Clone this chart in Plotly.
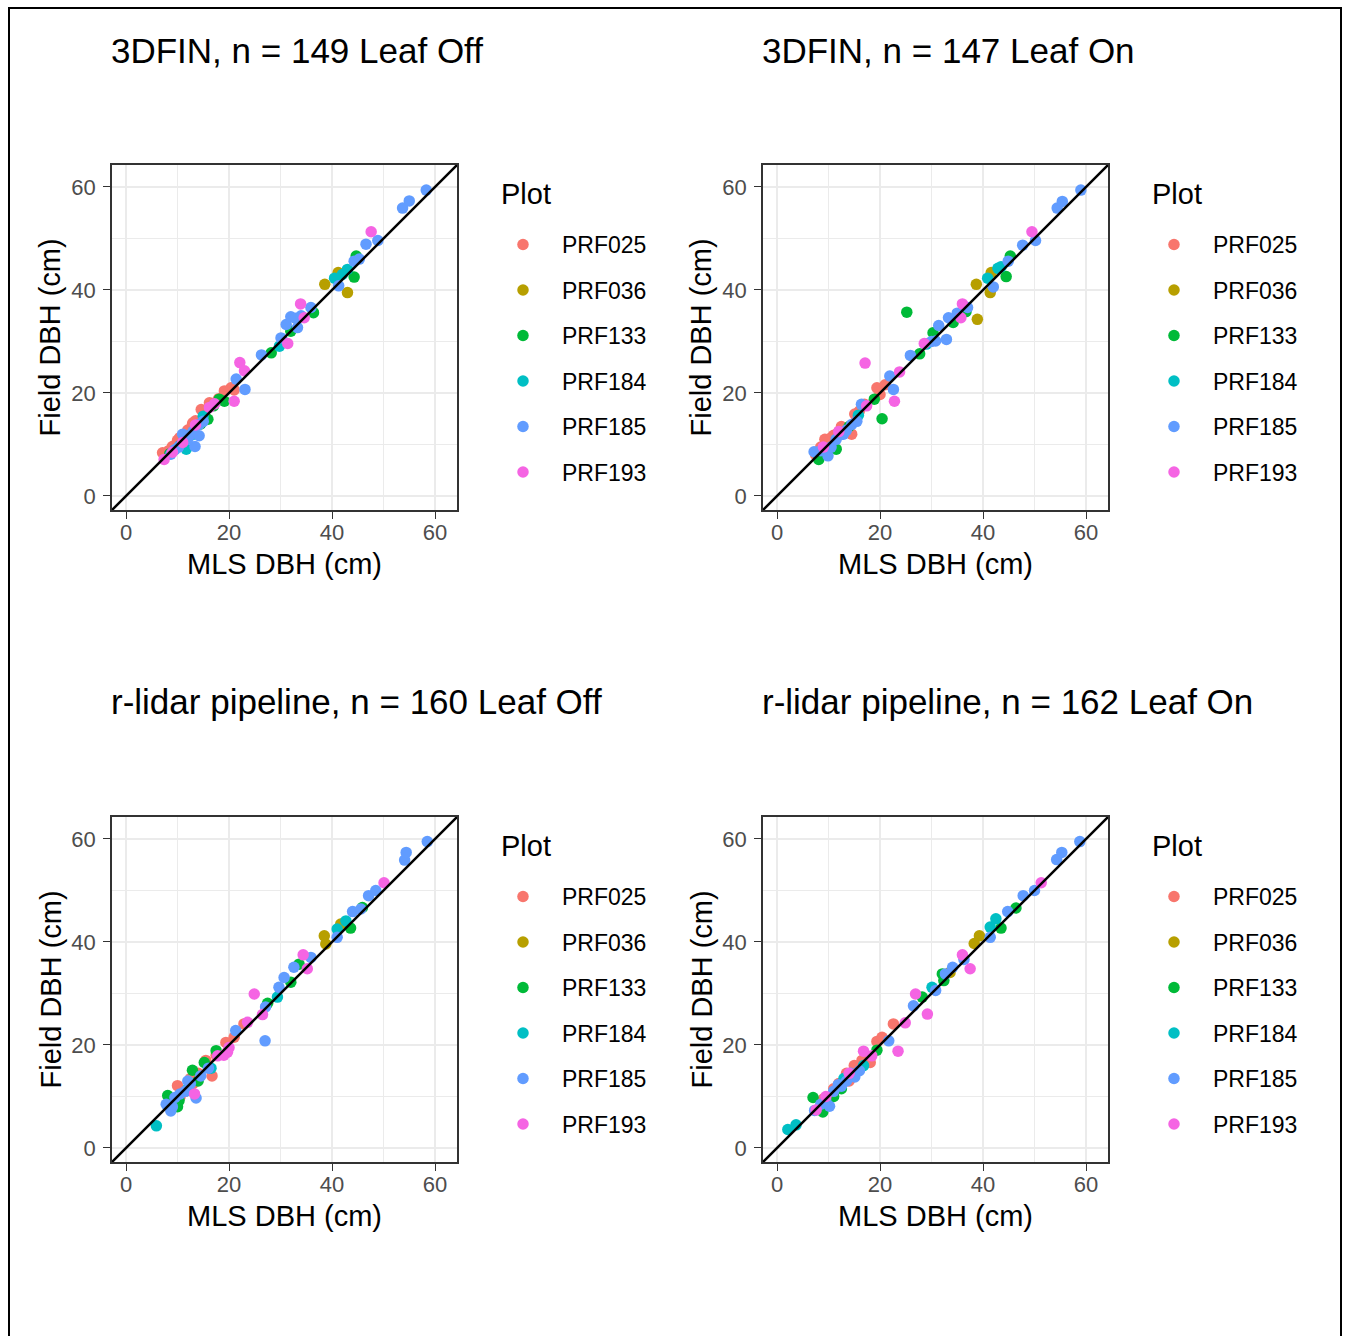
import plotly.graph_objects as go

# ---------------- data ----------------
PLOTS = ["PRF025", "PRF036", "PRF133", "PRF184", "PRF185", "PRF193"]
COLORS = ["#F8766D", "#B79F00", "#00BA38", "#00BFC4", "#619CFF", "#F564E3"]
TITLES = ["3DFIN, n = 149 Leaf Off", "3DFIN, n = 147 Leaf On",
          "r-lidar pipeline, n = 160 Leaf Off", "r-lidar pipeline, n = 162 Leaf On"]
TICKS = [0, 20, 40, 60]
MINOR_TICKS = [10, 30, 50]

# Panel 1: 3DFIN Leaf Off
p1_025_mls = [7.1, 8.3, 9.0, 10.4, 11.2, 12.0, 12.9, 13.5, 14.6, 15.2, 16.2, 17.0, 18.0, 19.1, 20.4, 21.0, 10.0, 13.0]
p1_025_fld = [8.4, 8.8, 9.6, 11.3, 11.9, 12.8, 13.9, 14.6, 16.8, 16.4, 18.1, 18.0, 18.9, 20.4, 21.0, 20.6, 10.8, 14.2]
p1_036_mls = [38.6, 41.2, 43.0]
p1_036_fld = [41.1, 43.4, 39.5]
p1_133_mls = [8.5, 12.5, 14.5, 15.9, 18.1, 19.1, 28.2, 32.0, 36.4, 44.7, 44.3, 11.0, 17.0]
p1_133_fld = [8.2, 11.8, 14.0, 14.9, 18.8, 18.4, 27.8, 32.0, 35.6, 46.6, 42.5, 10.3, 17.5]
p1_184_mls = [11.7, 10.5, 13.0, 15.0, 29.8, 30.5, 40.5, 43.0, 42.0]
p1_184_fld = [9.1, 9.8, 12.0, 15.5, 29.1, 30.0, 42.3, 44.0, 43.0]
p1_185_mls = [8.7, 9.5, 10.2, 11.0, 12.3, 13.4, 14.2, 14.2, 13.0, 12.0, 15.0, 21.4, 23.1, 26.3, 30.1, 31.1,
              32.0, 33.3, 35.9, 33.0, 41.3, 44.3, 45.3, 46.6, 48.9, 53.7, 55.0, 58.3, 34.0]
p1_185_fld = [8.1, 9.0, 9.5, 12.0, 11.7, 9.6, 13.9, 11.7, 12.5, 11.0, 14.5, 22.7, 20.7, 27.4, 30.7, 33.3,
              34.8, 32.7, 36.6, 34.5, 40.8, 45.6, 46.0, 48.9, 49.6, 55.9, 57.3, 59.4, 35.0]
p1_193_mls = [7.4, 11.0, 16.2, 17.2, 21.0, 22.1, 23.0, 31.4, 33.9, 34.6, 47.6, 9.0, 13.5]
p1_193_fld = [7.1, 10.4, 17.2, 17.9, 18.4, 25.9, 24.3, 29.6, 37.3, 34.6, 51.3, 8.5, 13.8]

# Panel 2: 3DFIN Leaf On
p2_025_mls = [7.5, 8.5, 9.3, 10.0, 11.0, 12.0, 13.0, 14.5, 15.1, 16.0, 17.0, 19.4, 20.0, 21.0, 10.5, 12.5]
p2_025_fld = [8.0, 9.5, 11.0, 10.5, 11.8, 12.5, 12.8, 12.0, 15.9, 16.5, 17.8, 21.0, 19.7, 21.6, 11.3, 13.5]
p2_036_mls = [38.7, 41.6, 41.4, 38.9]
p2_036_fld = [41.1, 43.4, 39.5, 34.3]
p2_133_mls = [8.1, 11.5, 18.9, 20.4, 25.2, 27.7, 30.3, 34.2, 36.7, 44.5, 45.3, 14.0]
p2_133_fld = [7.1, 9.1, 18.8, 15.0, 35.7, 27.6, 31.7, 33.7, 35.8, 42.6, 46.6, 13.5]
p2_184_mls = [15.8, 12.5, 40.9, 42.9, 43.5, 29.0]
p2_184_fld = [15.7, 12.0, 42.3, 44.2, 44.5, 29.5]
p2_185_mls = [7.2, 8.5, 9.9, 10.5, 11.5, 12.9, 13.5, 14.5, 15.5, 16.4, 21.9, 22.6, 25.9, 30.8, 31.4, 32.9,
              33.3, 37.0, 35.0, 42.0, 44.9, 47.7, 50.2, 54.4, 55.4, 59.0, 30.0]
p2_185_fld = [8.6, 8.8, 7.8, 9.5, 11.0, 12.0, 12.8, 13.9, 14.5, 17.8, 23.3, 20.7, 27.3, 30.1, 33.1, 30.4,
              34.6, 36.6, 35.5, 40.6, 45.6, 48.7, 49.6, 55.9, 57.2, 59.4, 30.0]
p2_193_mls = [17.1, 17.4, 22.8, 23.8, 28.6, 35.7, 36.0, 49.5, 12.0, 9.0]
p2_193_fld = [25.8, 17.5, 18.4, 24.1, 29.6, 34.6, 37.3, 51.3, 12.5, 9.5]

# Panel 3: r-lidar Leaf Off
p3_025_mls = [8.5, 10.0, 11.5, 12.5, 14.0, 15.5, 16.7, 17.5, 19.4, 21.0, 22.9, 10.5, 13.0]
p3_025_fld = [9.0, 12.1, 11.0, 13.5, 14.5, 17.0, 14.0, 18.0, 20.5, 21.5, 24.1, 10.0, 12.5]
p3_036_mls = [38.5, 38.8, 41.7]
p3_036_fld = [41.2, 39.6, 43.5]
p3_133_mls = [8.1, 10.3, 12.9, 15.2, 17.5, 27.5, 32.0, 33.6, 43.6, 45.9, 10.0, 14.0]
p3_133_fld = [10.2, 9.2, 15.1, 16.6, 18.9, 28.1, 32.2, 35.7, 42.7, 46.7, 8.0, 13.0]
p3_184_mls = [5.9, 16.5, 29.4, 41.0, 42.7, 12.0]
p3_184_fld = [4.3, 15.5, 29.3, 42.5, 44.1, 11.5]
p3_185_mls = [7.8, 8.7, 9.5, 10.5, 11.5, 12.5, 13.6, 14.5, 16.0, 21.3, 27.0, 27.1, 29.7, 30.7, 32.6, 35.9,
              41.0, 44.0, 45.6, 47.1, 48.5, 54.1, 54.4, 58.5, 9.0, 12.0]
p3_185_fld = [8.5, 7.2, 9.8, 10.5, 11.0, 12.5, 9.7, 14.0, 15.5, 22.8, 20.8, 27.4, 31.2, 33.1, 35.1, 37.0,
              40.9, 45.9, 46.4, 49.0, 50.0, 55.9, 57.4, 59.5, 8.0, 13.0]
p3_193_mls = [13.3, 17.8, 19.7, 20.0, 23.6, 24.9, 26.5, 34.4, 35.2, 50.1, 19.0]
p3_193_fld = [10.5, 17.9, 18.6, 19.5, 24.4, 29.9, 25.9, 37.5, 34.8, 51.5, 18.0]

# Panel 4: r-lidar Leaf On
p4_025_mls = [9.0, 10.5, 12.0, 13.5, 15.0, 16.5, 18.1, 19.4, 20.4, 22.6, 14.0, 11.0]
p4_025_fld = [9.5, 10.0, 12.5, 14.5, 16.0, 17.0, 16.6, 20.7, 21.5, 24.1, 13.0, 11.5]
p4_036_mls = [39.3, 38.3, 33.6]
p4_036_fld = [41.2, 39.7, 34.1]
p4_133_mls = [7.0, 8.9, 12.5, 19.4, 28.2, 32.1, 32.4, 43.5, 46.4, 11.0]
p4_133_fld = [9.8, 7.0, 11.5, 19.0, 29.3, 33.8, 32.5, 42.7, 46.6, 10.0]
p4_184_mls = [2.1, 3.7, 16.8, 30.1, 41.4, 42.5, 13.0]
p4_184_fld = [3.6, 4.5, 16.0, 31.2, 42.9, 44.5, 13.5]
p4_185_mls = [7.3, 8.5, 10.2, 11.0, 11.9, 12.5, 13.5, 14.3, 15.1, 16.0, 21.7, 26.5, 30.8, 32.7, 34.1, 36.3,
              41.4, 44.8, 47.8, 50.0, 54.3, 55.3, 58.8, 9.5]
p4_185_fld = [7.3, 8.5, 8.1, 11.0, 12.3, 12.0, 13.0, 14.5, 13.8, 15.0, 20.8, 27.6, 30.6, 33.8, 35.1, 36.6,
              40.9, 45.9, 49.0, 50.0, 56.0, 57.4, 59.5, 9.0]
p4_193_mls = [7.6, 9.5, 16.8, 18.4, 23.5, 24.9, 26.9, 29.2, 36.0, 37.5, 51.3, 14.0]
p4_193_fld = [7.4, 10.0, 18.8, 17.9, 18.8, 24.3, 29.9, 26.0, 37.5, 34.8, 51.5, 14.5]

PANELS = [
    [(p1_025_mls, p1_025_fld), (p1_036_mls, p1_036_fld), (p1_133_mls, p1_133_fld),
     (p1_184_mls, p1_184_fld), (p1_185_mls, p1_185_fld), (p1_193_mls, p1_193_fld)],
    [(p2_025_mls, p2_025_fld), (p2_036_mls, p2_036_fld), (p2_133_mls, p2_133_fld),
     (p2_184_mls, p2_184_fld), (p2_185_mls, p2_185_fld), (p2_193_mls, p2_193_fld)],
    [(p3_025_mls, p3_025_fld), (p3_036_mls, p3_036_fld), (p3_133_mls, p3_133_fld),
     (p3_184_mls, p3_184_fld), (p3_185_mls, p3_185_fld), (p3_193_mls, p3_193_fld)],
    [(p4_025_mls, p4_025_fld), (p4_036_mls, p4_036_fld), (p4_133_mls, p4_133_fld),
     (p4_184_mls, p4_184_fld), (p4_185_mls, p4_185_fld), (p4_193_mls, p4_193_fld)],
]

# ---------------- layout constants ----------------
W, H = 1346, 1336
FONT = "Liberation Sans, Arial, Helvetica, sans-serif"
AX_RANGE = [-2.72, 64.27]
PANEL_SIZE = 345
PANEL_TL = [(112, 165), (763, 165), (112, 817), (763, 817)]


def fx(x):
    return x / W


def fy(y):
    return 1 - y / H


fig = go.Figure()
annotations = []

for i, (panel, (left, top)) in enumerate(zip(PANELS, PANEL_TL)):
    n = i + 1
    xa = "x" if n == 1 else f"x{n}"
    ya = "y" if n == 1 else f"y{n}"
    leg = "legend" if n == 1 else f"legend{n}"
    for j, (name, col, (mls, fld)) in enumerate(zip(PLOTS, COLORS, panel)):
        fig.add_trace(go.Scatter(
            x=mls, y=fld, mode="markers", name=name,
            marker=dict(color=col, size=11.5, line=dict(width=0)),
            xaxis=xa, yaxis=ya, legend=leg, legendgroup=f"{leg}_{name}",
            showlegend=True, hoverinfo="skip"))
    # 1:1 line
    fig.add_trace(go.Scatter(
        x=AX_RANGE, y=AX_RANGE, mode="lines", line=dict(color="black", width=2.5),
        xaxis=xa, yaxis=ya, showlegend=False, hoverinfo="skip"))

    right, bottom = left + PANEL_SIZE, top + PANEL_SIZE
    axis_common = dict(
        range=AX_RANGE, tickvals=TICKS, ticks="outside", ticklen=7, tickwidth=1.3,
        tickcolor="#333333", showline=True, mirror=True, linecolor="#333333", linewidth=1.5,
        showgrid=True, gridcolor="#EBEBEB", gridwidth=2.2, zeroline=False,
        tickfont=dict(family=FONT, size=22, color="#4D4D4D"),
        minor=dict(tickvals=MINOR_TICKS, showgrid=True, gridcolor="#EBEBEB", gridwidth=1.1, ticklen=0),
        fixedrange=True,
    )
    fig.update_layout(**{
        ("xaxis" if n == 1 else f"xaxis{n}"): dict(domain=[fx(left), fx(right)], anchor=ya,
                                                   ticklabelstandoff=-5, **axis_common),
        ("yaxis" if n == 1 else f"yaxis{n}"): dict(domain=[fy(bottom), fy(top)], anchor=xa,
                                                   ticklabelstandoff=3, **axis_common),
        leg: dict(
            x=fx(left + 372), y=fy(top + 58), xanchor="left", yanchor="top",
            font=dict(family=FONT, size=23, color="black"),
            traceorder="grouped", tracegroupgap=12.6, itemsizing="trace", itemwidth=68,
            bgcolor="rgba(0,0,0,0)"),
    })
    # legend title
    annotations.append(dict(text="Plot", x=fx(left + 387), y=fy(top + 29), xref="paper", yref="paper",
                            xanchor="left", yanchor="middle", showarrow=False,
                            font=dict(family=FONT, size=29, color="black")))
    # titles
    annotations.append(dict(text=TITLES[i], x=fx(left - 3), y=fy(top - 115), xref="paper", yref="paper",
                            xanchor="left", yanchor="middle", showarrow=False,
                            font=dict(family=FONT, size=35, color="black")))
    annotations.append(dict(text="MLS DBH (cm)", x=fx((left + right) / 2), y=fy(bottom + 54), xref="paper",
                            yref="paper", xanchor="center", yanchor="middle", showarrow=False,
                            font=dict(family=FONT, size=29, color="black")))
    annotations.append(dict(text="Field DBH (cm)", x=fx(left - 62), y=fy((top + bottom) / 2), xref="paper",
                            yref="paper", xanchor="center", yanchor="middle", showarrow=False, textangle=-90,
                            font=dict(family=FONT, size=29, color="black")))

fig.update_layout(
    width=W, height=H, margin=dict(l=0, r=0, t=0, b=0),
    paper_bgcolor="white", plot_bgcolor="white",
    annotations=annotations,
    shapes=[dict(type="rect", xref="paper", yref="paper", x0=fx(9), x1=fx(1341), y0=-0.02, y1=fy(8),
                 line=dict(color="black", width=2), fillcolor="rgba(0,0,0,0)", layer="above")],
)

fig.write_html("out.html")
